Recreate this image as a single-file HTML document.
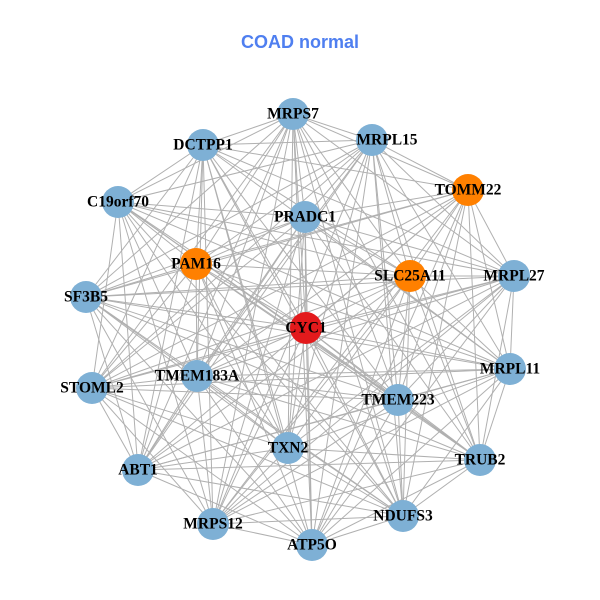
<!DOCTYPE html>
<html><head><meta charset="utf-8"><style>
html,body{margin:0;padding:0;background:#fff;}
svg{display:block;}
text.l{font-family:"Liberation Serif",serif;font-weight:bold;font-size:15.5px;text-anchor:middle;dominant-baseline:central;fill:#000;}
</style></head><body>
<svg id="s" width="600" height="600" viewBox="0 0 600 600">
<rect width="600" height="600" fill="#fff"/>
<text x="300" y="42" font-family="Liberation Sans,sans-serif" font-weight="bold" font-size="18" fill="#4f7ff0" text-anchor="middle" dominant-baseline="central">COAD normal</text>
<g id="e" stroke="#b0b0b0" stroke-width="1"></g>
<g id="n"></g>
<g>
<text class="l" x="293" y="114">MRPS7</text>
<text class="l" x="203" y="145">DCTPP1</text>
<text class="l" x="387" y="140">MRPL15</text>
<text class="l" x="468" y="190">TOMM22</text>
<text class="l" x="118" y="202">C19orf70</text>
<text class="l" x="305" y="217">PRADC1</text>
<text class="l" x="196" y="264">PAM16</text>
<text class="l" x="410" y="276">SLC25A11</text>
<text class="l" x="514" y="276">MRPL27</text>
<text class="l" x="86" y="297">SF3B5</text>
<text class="l" x="306" y="328">CYC1</text>
<text class="l" x="510" y="369">MRPL11</text>
<text class="l" x="92" y="388">STOML2</text>
<text class="l" x="197" y="376">TMEM183A</text>
<text class="l" x="398" y="400">TMEM223</text>
<text class="l" x="288" y="448">TXN2</text>
<text class="l" x="480" y="460">TRUB2</text>
<text class="l" x="138" y="470">ABT1</text>
<text class="l" x="403" y="516">NDUFS3</text>
<text class="l" x="213" y="524">MRPS12</text>
<text class="l" x="312" y="545">ATP5O</text>
</g>
</svg>
<script>
var N=[[293,114,0],[203,145,0],[372,140,0],[468,190,1],[118,202,0],[305,217,0],[196,264,1],[410,276,1],[514,276,0],[86,297,0],[306,328,2],[510,369,0],[92,388,0],[197,376,0],[398,400,0],[288,448,0],[480,460,0],[138,470,0],[403,516,0],[213,524,0],[312,545,0]];
var ns="http://www.w3.org/2000/svg",e=document.getElementById("e"),n=document.getElementById("n");
for(var i=0;i<N.length;i++)for(var j=i+1;j<N.length;j++){if((i*7+j*3)%11==0)continue;var l=document.createElementNS(ns,"line");l.setAttribute("x1",N[i][0]);l.setAttribute("y1",N[i][1]);l.setAttribute("x2",N[j][0]);l.setAttribute("y2",N[j][1]);e.appendChild(l);}
var C=["#7eb0d5","#ff8000","#e31a1c"];
N.forEach(function(p){var c=document.createElementNS(ns,"circle");c.setAttribute("cx",p[0]);c.setAttribute("cy",p[1]);c.setAttribute("r",16);c.setAttribute("fill",C[p[2]]);n.appendChild(c);});
</script>
</body></html>
